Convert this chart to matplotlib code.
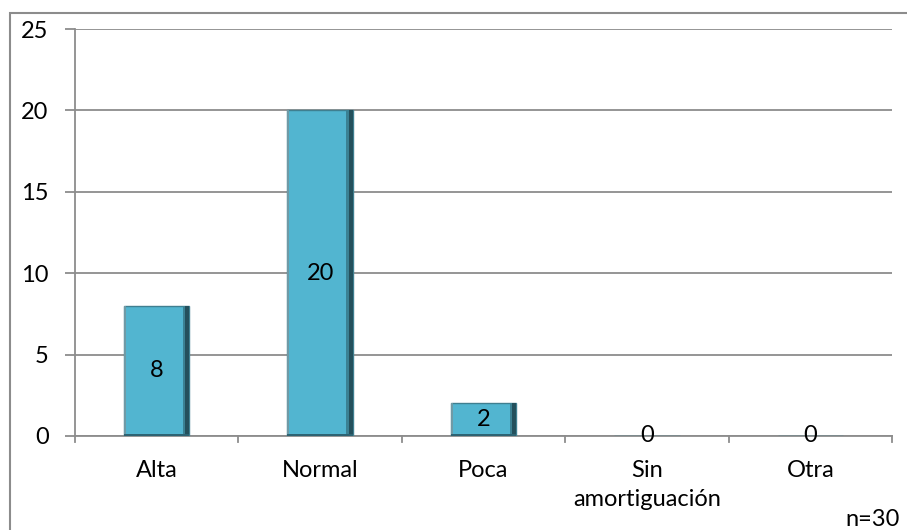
import matplotlib.pyplot as plt
from matplotlib.patches import Rectangle

categories = ["Alta", "Normal", "Poca", "Sin\namortiguación", "Otra"]
values = [8, 20, 2, 0, 0]
y_ticks = [0, 5, 10, 15, 20, 25]

plt.rcParams['font.family'] = ['Lato', 'DejaVu Sans']
FS = 17

fig = plt.figure(figsize=(9.07, 5.30), dpi=100)
W, H = 907, 530
ax = fig.add_axes([75 / W, 1 - 436 / H, (892 - 75) / W, (436 - 29) / H])

# marco exterior del gráfico
fig.patches.append(Rectangle((10 / W, -0.1), 1.2, 1 - 13 / H + 0.1,
                             transform=fig.transFigure, fill=False,
                             edgecolor='#8c8c8c', linewidth=1.5))

x = list(range(len(categories)))
bw = 0.4
bars = ax.bar(x, values, width=bw, color='#52B5D0', edgecolor='#3f7f90',
              linewidth=1.0, zorder=3)

# sombreado lateral para dar relieve a las barras
for xi, v in zip(x, values):
    if v > 0:
        ax.add_patch(Rectangle((xi + bw / 2 - 0.025, 0), 0.025, v,
                               facecolor='#24505c', edgecolor='none', zorder=4))
        ax.add_patch(Rectangle((xi + bw / 2 - 0.04, 0), 0.015, v,
                               facecolor='#3b8193', edgecolor='none', zorder=4))
        ax.add_patch(Rectangle((xi - bw / 2, 0), 0.012, v,
                               facecolor='#6f9aa6', edgecolor='none', zorder=4))
        ax.add_patch(Rectangle((xi - bw / 2, 0), bw, 0.1,
                               facecolor='#2d6373', edgecolor='none', zorder=4))
    ax.text(xi, v / 2, str(v), ha='center', va='center', fontsize=FS,
            color='black', zorder=5)

ax.set_xlim(-0.5, len(categories) - 0.5)
ax.set_ylim(0, 25)
ax.set_yticks(y_ticks)
ax.tick_params(axis='y', labelsize=FS, length=7, width=1.3, color='#8c8c8c', pad=12)
ax.set_xticks(x)
ax.set_xticklabels(categories, fontsize=FS, linespacing=1.5)
ax.tick_params(axis='x', length=0, pad=17)
for b in [i - 0.5 for i in range(len(categories) + 1)]:
    ax.plot([b, b], [0, -0.35], color='#8c8c8c', lw=1.3, clip_on=False, zorder=2)

ax.grid(axis='y', color='#8c8c8c', linewidth=1.3, zorder=0)
for s in ['top', 'right']:
    ax.spines[s].set_visible(False)
for s in ['left', 'bottom']:
    ax.spines[s].set_color('#8c8c8c')
    ax.spines[s].set_linewidth(1.3)

fig.text(900 / W, 1 - 526 / H, "n=30", ha='right', va='baseline', fontsize=FS)

fig.savefig("out.png", dpi=100)
